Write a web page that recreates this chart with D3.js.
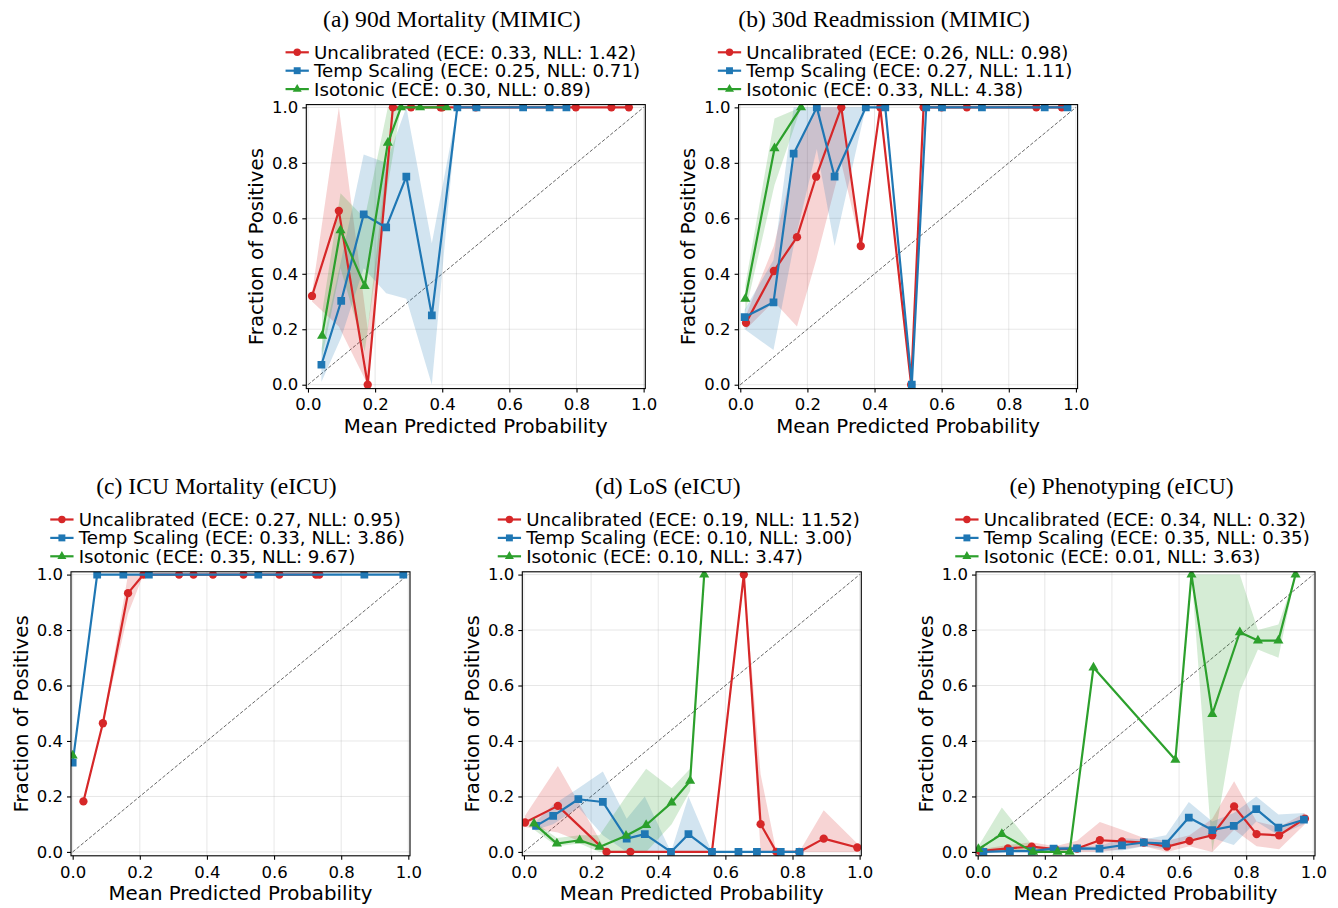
<!DOCTYPE html>
<html>
<head>
<meta charset="utf-8">
<script src="https://cdn.jsdelivr.net/npm/d3@7"></script>
<style>
  body { margin: 0; background: #fff; }
  text { font-family: "DejaVu Sans", sans-serif; }
</style>
</head>
<body>
<svg id="fig" width="1338" height="908"></svg>
<script>
// DATA ////////////////////////////////////////////////////////////////////

const titles = ["(a) 90d Mortality (MIMIC)", "(b) 30d Readmission (MIMIC)",
    "(c) ICU Mortality (eICU)", "(d) LoS (eICU)", "(e) Phenotyping (eICU)"];

const legend_a = ["Uncalibrated (ECE: 0.33, NLL: 1.42)", "Temp Scaling (ECE: 0.25, NLL: 0.71)", "Isotonic (ECE: 0.30, NLL: 0.89)"];
const legend_b = ["Uncalibrated (ECE: 0.26, NLL: 0.98)", "Temp Scaling (ECE: 0.27, NLL: 1.11)", "Isotonic (ECE: 0.33, NLL: 4.38)"];
const legend_c = ["Uncalibrated (ECE: 0.27, NLL: 0.95)", "Temp Scaling (ECE: 0.33, NLL: 3.86)", "Isotonic (ECE: 0.35, NLL: 9.67)"];
const legend_d = ["Uncalibrated (ECE: 0.19, NLL: 11.52)", "Temp Scaling (ECE: 0.10, NLL: 3.00)", "Isotonic (ECE: 0.10, NLL: 3.47)"];
const legend_e = ["Uncalibrated (ECE: 0.34, NLL: 0.32)", "Temp Scaling (ECE: 0.35, NLL: 0.35)", "Isotonic (ECE: 0.01, NLL: 3.63)"];

const ticks = [0, 0.2, 0.4, 0.6, 0.8, 1.0];

// (a) 90d mortality
const a_unc_x  = [0.012, 0.092, 0.178, 0.253, 0.307, 0.395, 0.40, 0.50, 0.798, 0.904, 0.956];
const a_unc_y  = [0.32, 0.627, 0.0, 1, 1, 1, 1, 1, 1, 1, 1];
const a_unc_lo = [0.30, 0.21, 0.0, 1, 1, 1, 1, 1, 1, 1, 1];
const a_unc_hi = [0.33, 1.0, 0.20, 1, 1, 1, 1, 1, 1, 1, 1];
const a_ts_x  = [0.040, 0.099, 0.166, 0.233, 0.293, 0.369, 0.445, 0.502, 0.641, 0.72, 0.77];
const a_ts_y  = [0.072, 0.302, 0.614, 0.567, 0.75, 0.25, 1, 1, 1, 1, 1];
const a_ts_lo = [0.01, 0.17, 0.42, 0.33, 0.31, 0.0, 1, 1, 1, 1, 1];
const a_ts_hi = [0.13, 0.45, 0.83, 0.80, 1.0, 0.51, 1, 1, 1, 1, 1];
const a_iso_x  = [0.042, 0.097, 0.169, 0.238, 0.277, 0.334, 0.413];
const a_iso_y  = [0.176, 0.557, 0.356, 0.872, 1, 1, 1];
const a_iso_lo = [0.10, 0.42, 0.12, 0.72, 1, 1, 1];
const a_iso_hi = [0.26, 0.69, 0.60, 1.0, 1, 1, 1];

// (b) 30d readmission
const b_unc_x  = [0.017, 0.100, 0.169, 0.226, 0.301, 0.359, 0.417, 0.509, 0.546, 0.600, 0.675, 0.882, 0.958];
const b_unc_y  = [0.223, 0.410, 0.532, 0.75, 1, 0.5, 1, 0, 1, 1, 1, 1, 1];
const b_unc_lo = [0.20, 0.30, 0.21, 0.45, 0.80, 0.5, 1, 0, 1, 1, 1, 1, 1];
const b_unc_hi = [0.25, 0.50, 0.85, 1.0, 1.0, 0.5, 1, 0, 1, 1, 1, 1, 1];
const b_ts_x  = [0.013, 0.099, 0.159, 0.228, 0.281, 0.374, 0.432, 0.511, 0.554, 0.601, 0.72, 0.907, 0.975];
const b_ts_y  = [0.244, 0.297, 0.833, 1, 0.75, 1, 1, 0, 1, 1, 1, 1, 1];
const b_ts_lo = [0.20, 0.125, 0.50, 0.85, 0.50, 1, 1, 0, 1, 1, 1, 1, 1];
const b_ts_hi = [0.27, 0.45, 1.0, 1.0, 1.0, 1, 1, 0, 1, 1, 1, 1, 1];
const b_iso_x  = [0.015, 0.102, 0.181];
const b_iso_y  = [0.31, 0.852, 1];
const b_iso_lo = [0.26, 0.72, 1];
const b_iso_hi = [0.36, 0.96, 1];

// (c) ICU mortality
const c_unc_x  = [0.032, 0.090, 0.165, 0.211, 0.317, 0.360, 0.418, 0.509, 0.616, 0.725, 0.735];
const c_unc_y  = [0.182, 0.464, 0.933, 1, 1, 1, 1, 1, 1, 1, 1];
const c_unc_lo = [0.18, 0.46, 0.86, 1, 1, 1, 1, 1, 1, 1, 1];
const c_unc_hi = [0.19, 0.47, 1.0, 1, 1, 1, 1, 1, 1, 1, 1];
const c_ts_x  = [0.0, 0.073, 0.151, 0.227, 0.553, 0.869, 0.985];
const c_ts_y  = [0.322, 1, 1, 1, 1, 1, 1];
const c_ts_lo = [0.322, 1, 1, 1, 1, 1, 1];
const c_ts_hi = [0.322, 1, 1, 1, 1, 1, 1];
const c_iso_x  = [0.0];
const c_iso_y  = [0.347];
const c_iso_lo = [0.347];
const c_iso_hi = [0.347];

// (d) LoS
const d_unc_x  = [0.003, 0.101, 0.246, 0.317, 0.56, 0.655, 0.705, 0.752, 0.82, 0.893, 0.993];
const d_unc_y  = [0.106, 0.166, 0, 0, 0, 1, 0.10, 0, 0, 0.048, 0.016];
const d_unc_lo = [0.09, 0.07, 0, 0, 0, 1, 0, 0, 0, 0, 0];
const d_unc_hi = [0.13, 0.31, 0, 0, 0, 1, 0.28, 0, 0, 0.15, 0.03];
const d_ts_x  = [0.036, 0.087, 0.162, 0.235, 0.306, 0.36, 0.438, 0.49, 0.56, 0.639, 0.694, 0.765, 0.821];
const d_ts_y  = [0.094, 0.13, 0.19, 0.18, 0.048, 0.064, 0, 0.064, 0, 0, 0, 0, 0];
const d_ts_lo = [0.08, 0.10, 0.16, 0.06, 0, 0, 0, 0, 0, 0, 0, 0, 0];
const d_ts_hi = [0.11, 0.17, 0.23, 0.29, 0.12, 0.20, 0, 0.20, 0, 0, 0, 0, 0];
const d_iso_x  = [0.03, 0.098, 0.166, 0.225, 0.304, 0.364, 0.44, 0.495, 0.537];
const d_iso_y  = [0.102, 0.03, 0.042, 0.018, 0.058, 0.097, 0.178, 0.256, 1];
const d_iso_lo = [0.08, 0.02, 0.03, 0, 0, 0, 0.10, 0.22, 1];
const d_iso_hi = [0.11, 0.05, 0.06, 0.06, 0.20, 0.30, 0.23, 0.30, 1];

// (e) phenotyping
const e_unc_x  = [0.007, 0.09, 0.161, 0.231, 0.296, 0.364, 0.43, 0.495, 0.564, 0.631, 0.699, 0.764, 0.831, 0.898, 0.975];
const e_unc_y  = [0.003, 0.013, 0.019, 0.01, 0.012, 0.042, 0.038, 0.034, 0.019, 0.04, 0.06, 0.164, 0.064, 0.06, 0.12];
const e_unc_lo = [0, 0.005, 0.01, 0.005, 0, 0, 0.01, 0.02, 0, 0.02, 0, 0.08, 0.02, 0.01, 0.10];
const e_unc_hi = [0.01, 0.025, 0.035, 0.02, 0.04, 0.108, 0.08, 0.05, 0.04, 0.06, 0.12, 0.255, 0.11, 0.09, 0.14];
const e_ts_x  = [0.017, 0.096, 0.161, 0.226, 0.296, 0.363, 0.43, 0.495, 0.561, 0.629, 0.699, 0.763, 0.83, 0.896, 0.972];
const e_ts_y  = [0, 0.003, 0.003, 0.012, 0.013, 0.012, 0.024, 0.034, 0.03, 0.124, 0.079, 0.094, 0.154, 0.088, 0.116];
const e_ts_lo = [0, 0, 0, 0.005, 0.005, 0.005, 0.005, 0.02, 0.01, 0.05, 0.05, 0.025, 0.11, 0.06, 0.10];
const e_ts_hi = [0.005, 0.01, 0.01, 0.02, 0.02, 0.02, 0.05, 0.045, 0.06, 0.18, 0.11, 0.14, 0.20, 0.135, 0.14];
const e_iso_x  = [0.002, 0.072, 0.165, 0.238, 0.274, 0.345, 0.589, 0.637, 0.699, 0.781, 0.835, 0.896, 0.947];
const e_iso_y  = [0.01, 0.064, 0, 0, 0, 0.665, 0.332, 1, 0.497, 0.792, 0.762, 0.762, 1];
const e_iso_lo = [0, 0, 0, 0, 0, 0.665, 0.332, 1, 0, 0.58, 0.73, 0.70, 1];
const e_iso_hi = [0.02, 0.16, 0.02, 0, 0, 0.665, 0.332, 1, 1, 1, 0.80, 0.82, 1];


// SETUP ///////////////////////////////////////////////////////////////////

const PLOT_W = 339;
const PLOT_H = 284;

const COLOURS = ["#d62728", "#1f77b4", "#2ca02c"];
const SYMBOLS = [d3.symbolCircle, d3.symbolSquare, d3.symbolTriangle];
const SYM_SIZE = [54, 60, 44];

function pack(xs, ys, los, his) {
    return xs.map(function (x, i) { return { x: x, y: ys[i], lo: los[i], hi: his[i] }; });
}

const panels = [
    { left: 306.3, top: 104.6, title: titles[0], legend: legend_a,
      series: [pack(a_unc_x, a_unc_y, a_unc_lo, a_unc_hi), pack(a_ts_x, a_ts_y, a_ts_lo, a_ts_hi), pack(a_iso_x, a_iso_y, a_iso_lo, a_iso_hi)] },
    { left: 738.6, top: 104.6, title: titles[1], legend: legend_b,
      series: [pack(b_unc_x, b_unc_y, b_unc_lo, b_unc_hi), pack(b_ts_x, b_ts_y, b_ts_lo, b_ts_hi), pack(b_iso_x, b_iso_y, b_iso_lo, b_iso_hi)] },
    { left: 71.0, top: 571.8, title: titles[2], legend: legend_c,
      series: [pack(c_unc_x, c_unc_y, c_unc_lo, c_unc_hi), pack(c_ts_x, c_ts_y, c_ts_lo, c_ts_hi), pack(c_iso_x, c_iso_y, c_iso_lo, c_iso_hi)] },
    { left: 522.3, top: 571.8, title: titles[3], legend: legend_d,
      series: [pack(d_unc_x, d_unc_y, d_unc_lo, d_unc_hi), pack(d_ts_x, d_ts_y, d_ts_lo, d_ts_hi), pack(d_iso_x, d_iso_y, d_iso_lo, d_iso_hi)] },
    { left: 976.0, top: 571.8, title: titles[4], legend: legend_e,
      series: [pack(e_unc_x, e_unc_y, e_unc_lo, e_unc_hi), pack(e_ts_x, e_ts_y, e_ts_lo, e_ts_hi), pack(e_iso_x, e_iso_y, e_iso_lo, e_iso_hi)] }
];

var svg = d3.select("#fig");
svg.append("rect").attr("width", 1338).attr("height", 908).attr("fill", "white");

var x = d3.scaleLinear().domain([-0.005, 1.005]).range([0, PLOT_W]);
var y = d3.scaleLinear().domain([-0.014, 1.01]).range([PLOT_H, 0]);


function drawPanel(p, k) {
    var g = svg.append("g").attr("transform", "translate(" + p.left + "," + p.top + ")");

    g.append("clipPath").attr("id", "clip" + k)
        .append("rect").attr("width", PLOT_W).attr("height", PLOT_H);

    // grid
    g.append("g").selectAll("line").data(ticks).enter().append("line")
        .attr("x1", function (d) { return x(d); }).attr("x2", function (d) { return x(d); })
        .attr("y1", 0).attr("y2", PLOT_H)
        .attr("stroke", "#b0b0b0").attr("stroke-opacity", 0.3).attr("stroke-width", 1);
    g.append("g").selectAll("line").data(ticks).enter().append("line")
        .attr("y1", function (d) { return y(d); }).attr("y2", function (d) { return y(d); })
        .attr("x1", 0).attr("x2", PLOT_W)
        .attr("stroke", "#b0b0b0").attr("stroke-opacity", 0.3).attr("stroke-width", 1);

    var plot = g.append("g").attr("clip-path", "url(#clip" + k + ")");

    // diagonal
    plot.append("line")
        .attr("x1", x(0)).attr("y1", y(0)).attr("x2", x(1)).attr("y2", y(1))
        .attr("stroke", "#000").attr("stroke-opacity", 0.6)
        .attr("stroke-width", 1).attr("stroke-dasharray", "3.5,1.8");

    var area = d3.area()
        .x(function (d) { return x(d.x); })
        .y0(function (d) { return y(d.lo); })
        .y1(function (d) { return y(d.hi); });

    var line = d3.line()
        .x(function (d) { return x(d.x); })
        .y(function (d) { return y(d.y); });

    // bands first
    p.series.forEach(function (s, i) {
        plot.append("path").datum(s)
            .attr("d", area)
            .attr("fill", COLOURS[i]).attr("fill-opacity", 0.2)
            .attr("stroke", "none");
    });

    p.series.forEach(function (s, i) {
        plot.append("path").datum(s)
            .attr("d", line)
            .attr("fill", "none")
            .attr("stroke", COLOURS[i]).attr("stroke-width", 2.2)
            .attr("stroke-linejoin", "round");
        plot.append("g").selectAll("path").data(s).enter().append("path")
            .attr("transform", function (d) { return "translate(" + x(d.x) + "," + y(d.y) + ")"; })
            .attr("d", d3.symbol().type(SYMBOLS[i]).size(SYM_SIZE[i]))
            .attr("fill", COLOURS[i]);
    });

    // axes
    var xAxis = g.append("g").attr("transform", "translate(0," + PLOT_H + ")")
        .call(d3.axisBottom(x).tickValues(ticks).tickFormat(d3.format(".1f"))
            .tickSize(4).tickPadding(6));
    var yAxis = g.append("g")
        .call(d3.axisLeft(y).tickValues(ticks).tickFormat(d3.format(".1f"))
            .tickSize(4).tickPadding(4));
    [xAxis, yAxis].forEach(function (ax) {
        ax.select(".domain").remove();
        ax.selectAll("line").attr("stroke", "#000").attr("stroke-width", 1.1);
        ax.selectAll("text").attr("font-family", "DejaVu Sans")
            .attr("font-size", "16.5px").attr("fill", "#000");
    });

    // frame
    g.append("rect").attr("width", PLOT_W).attr("height", PLOT_H)
        .attr("fill", "none").attr("stroke", "#000").attr("stroke-width", 1.1);

    // labels
    g.append("text")
        .text("Mean Predicted Probability")
        .attr("x", PLOT_W / 2).attr("y", PLOT_H + 44)
        .attr("text-anchor", "middle")
        .style("font-size", "19.8px");

    g.append("text")
        .text("Fraction of Positives")
        .attr("transform", "translate(-43.3," + (PLOT_H / 2) + ") rotate(-90)")
        .attr("text-anchor", "middle")
        .style("font-size", "19.8px");

    g.append("text")
        .text(p.title)
        .attr("x", PLOT_W / 2 - 24).attr("y", -78)
        .attr("text-anchor", "middle")
        .style("font-family", "'Liberation Serif', 'Times New Roman', serif")
        .style("font-size", "23.6px");

    // legend
    var leg = g.append("g");
    var items = leg.selectAll("g").data(p.legend).enter().append("g")
        .attr("transform", function (d, i) { return "translate(0," + (-52.3 + i * 18.4) + ")"; });
    items.append("line")
        .attr("x1", 0).attr("x2", 23.3).attr("y1", 0).attr("y2", 0)
        .attr("stroke", function (d, i) { return COLOURS[i]; }).attr("stroke-width", 2.2);
    items.append("path")
        .attr("transform", "translate(11.65,0)")
        .attr("d", function (d, i) { return d3.symbol().type(SYMBOLS[i]).size(SYM_SIZE[i] * 0.8)(); })
        .attr("fill", function (d, i) { return COLOURS[i]; });
    var labels = items.append("text")
        .text(function (d) { return d; })
        .attr("x", 28.5).attr("dy", "0.36em")
        .style("font-size", "18.2px");

    var maxW = d3.max(labels.nodes(), function (n) { return n.getComputedTextLength(); });
    var legW = 28.5 + maxW;
    leg.attr("transform", "translate(" + (PLOT_W / 2 - 13 - legW / 2) + ",0)");
}

panels.forEach(drawPanel);
</script>
</body>
</html>
